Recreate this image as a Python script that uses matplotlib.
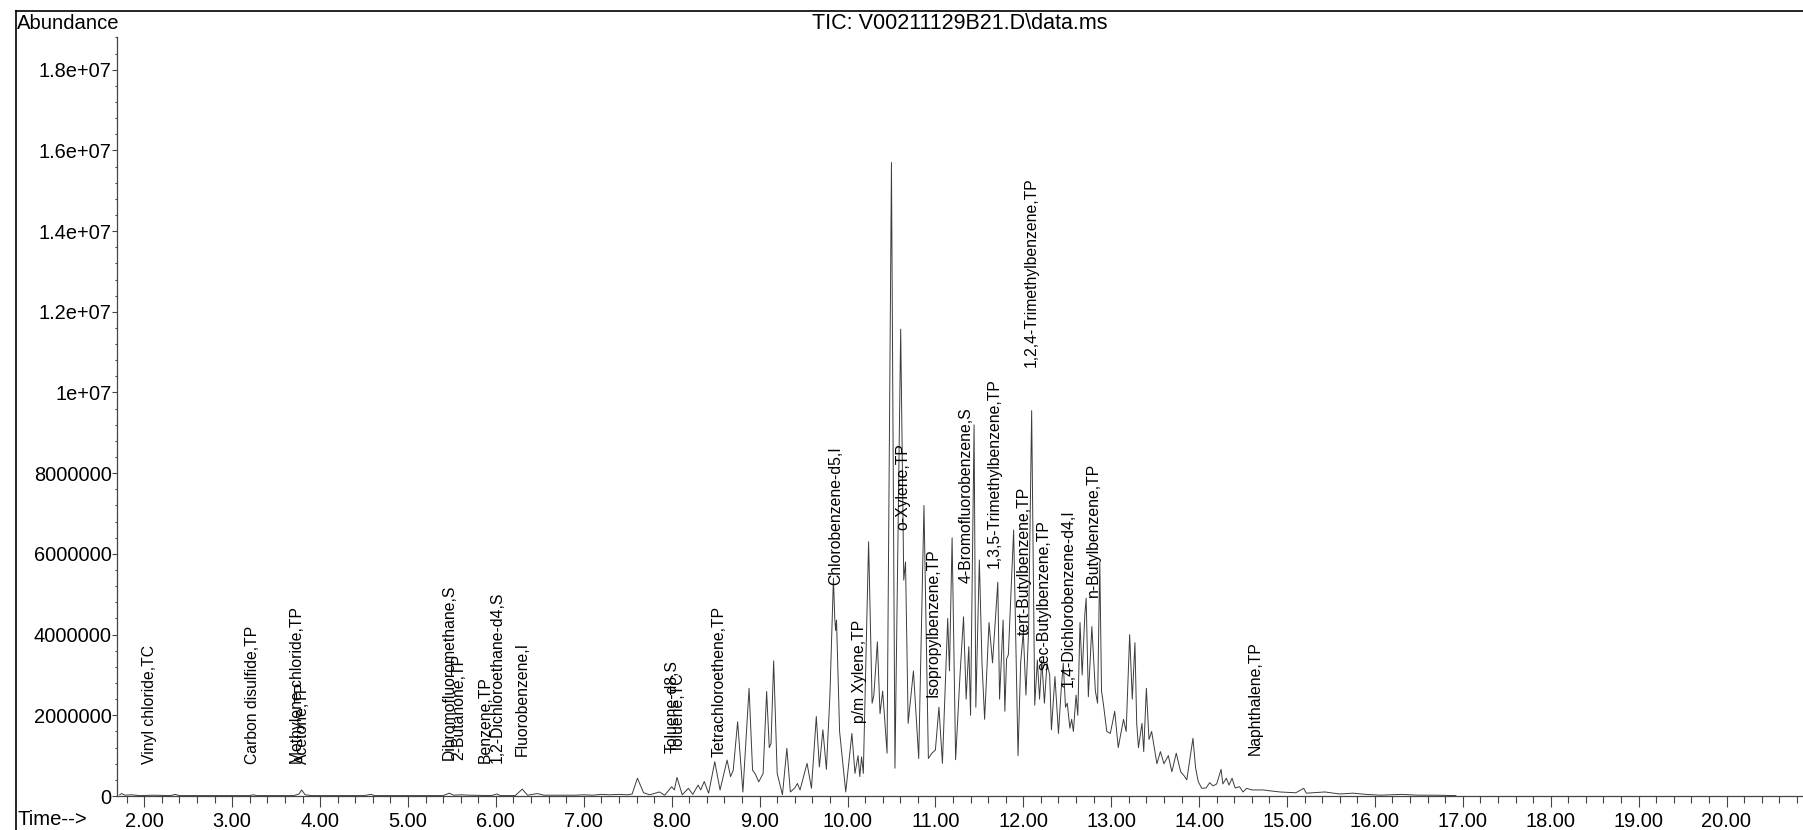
import numpy as np
import matplotlib
matplotlib.use("Agg")
import matplotlib.pyplot as plt
from matplotlib.lines import Line2D
from matplotlib.ticker import MultipleLocator, FuncFormatter

plt.rcParams['font.family'] = ['Liberation Sans', 'DejaVu Sans']

# TIC trace: retention time (min), abundance (millions)
rt_min = [1.72, 1.74, 1.78, 1.85, 1.95, 2.10, 2.30, 2.35, 2.40, 2.70, 3.20, 3.24, 3.28,
          3.70, 3.76, 3.79, 3.83, 3.90, 4.50, 4.58, 4.62, 5.40, 5.47, 5.52, 5.60, 5.70,
          5.95, 6.01, 6.05, 6.22, 6.30, 6.36, 6.47, 6.55, 6.90, 7.00, 7.10, 7.20, 7.30,
          7.40, 7.50, 7.55, 7.61, 7.68, 7.75, 7.86, 7.92, 7.97, 8.00, 8.03, 8.06, 8.12,
          8.19, 8.24, 8.30, 8.33, 8.37, 8.42, 8.49, 8.55, 8.63, 8.67, 8.70, 8.75, 8.81,
          8.88, 8.92, 8.95, 8.99, 9.04, 9.08, 9.11, 9.13, 9.16, 9.20, 9.26, 9.31, 9.35,
          9.40, 9.43, 9.46, 9.54, 9.59, 9.645, 9.68, 9.72, 9.76, 9.80, 9.84, 9.855, 9.865,
          9.875, 9.91, 9.98, 10.05, 10.085, 10.12, 10.14, 10.16, 10.18, 10.24, 10.28, 10.30,
          10.34, 10.37, 10.40, 10.42, 10.45, 10.50, 10.54, 10.605, 10.64, 10.66, 10.69,
          10.75, 10.81, 10.87, 10.92, 10.96, 11.00, 11.04, 11.08, 11.14, 11.16, 11.19,
          11.23, 11.28, 11.32, 11.35, 11.38, 11.40, 11.44, 11.46, 11.50, 11.53, 11.56,
          11.61, 11.65, 11.71, 11.73, 11.77, 11.79, 11.81, 11.83, 11.89, 11.94, 11.97,
          12.00, 12.03, 12.06, 12.095, 12.13, 12.16, 12.185, 12.21, 12.24, 12.27, 12.30,
          12.32, 12.36, 12.40, 12.43, 12.455, 12.48, 12.50, 12.53, 12.55, 12.57, 12.60,
          12.62, 12.645, 12.67, 12.70, 12.715, 12.74, 12.78, 12.82, 12.845, 12.87, 12.89,
          12.91, 12.95, 12.99, 13.04, 13.08, 13.14, 13.17, 13.21, 13.24, 13.27, 13.29,
          13.31, 13.35, 13.37, 13.40, 13.43, 13.46, 13.52, 13.56, 13.60, 13.65, 13.69,
          13.74, 13.79, 13.83, 13.86, 13.93, 13.96, 13.99, 14.03, 14.08, 14.12, 14.16,
          14.20, 14.25, 14.27, 14.31, 14.34, 14.375, 14.41, 14.46, 14.50, 14.54, 14.60,
          14.73, 14.80, 14.92, 15.10, 15.19, 15.22, 15.43, 15.60, 15.75, 15.90, 16.06,
          16.30, 16.50, 16.70, 16.92]
abund_m = [0.03, 0.06, 0.02, 0.03, 0.01, 0.02, 0.01, 0.04, 0.01, 0.01, 0.01, 0.03, 0.01,
           0.01, 0.05, 0.15, 0.03, 0.01, 0.01, 0.04, 0.01, 0.01, 0.07, 0.02, 0.03, 0.02,
           0.01, 0.05, 0.01, 0.01, 0.17, 0.02, 0.06, 0.02, 0.02, 0.03, 0.02, 0.04, 0.03,
           0.04, 0.03, 0.05, 0.44, 0.08, 0.03, 0.10, 0.02, 0.15, 0.23, 0.15, 0.46, 0.03,
           0.19, 0.04, 0.27, 0.15, 0.36, 0.07, 0.85, 0.15, 0.89, 0.48, 0.64, 1.84, 0.10,
           2.67, 0.64, 0.55, 0.35, 0.56, 2.59, 1.20, 1.30, 3.35, 0.56, 0.03, 1.18, 0.10,
           0.20, 0.31, 0.15, 0.81, 0.19, 1.97, 0.72, 1.64, 0.66, 2.50, 5.40, 4.40, 4.10,
           4.36, 1.60, 0.10, 1.55, 0.56, 1.00, 0.48, 0.97, 0.56, 6.30, 2.30, 2.50,
           3.82, 2.04, 2.60, 2.00, 1.06, 15.70, 0.69, 11.57, 5.35, 5.80, 1.80,
           3.10, 0.93, 7.20, 0.93, 1.06, 1.14, 2.20, 0.81, 4.40, 3.10, 6.40,
           0.90, 3.00, 4.44, 2.40, 3.70, 2.00, 9.20, 2.20, 5.85, 3.30, 1.90,
           4.30, 3.30, 5.30, 2.40, 4.36, 2.10, 3.40, 3.50, 6.59, 1.00, 3.30,
           4.07, 2.50, 4.10, 9.55, 2.25, 3.37, 2.40, 3.37, 2.30, 3.29, 3.00,
           1.64, 2.96, 1.55, 2.60, 3.29, 2.20, 2.30, 1.68, 1.90, 1.60, 2.50,
           2.00, 4.30, 3.00, 4.50, 4.90, 2.46, 4.20, 2.60, 2.30, 5.80, 2.60,
           2.30, 1.60, 1.55, 2.10, 1.20, 1.90, 1.60, 4.00, 2.40, 3.80, 1.80,
           1.20, 1.80, 1.10, 2.67, 1.40, 1.60, 0.80, 1.10, 0.80, 1.00, 0.60,
           1.06, 0.60, 0.50, 0.40, 1.43, 0.70, 0.36, 0.19, 0.20, 0.33, 0.25,
           0.30, 0.66, 0.30, 0.44, 0.27, 0.44, 0.20, 0.23, 0.10, 0.19, 0.15,
           0.15, 0.13, 0.10, 0.08, 0.19, 0.07, 0.10, 0.05, 0.07, 0.04, 0.02,
           0.04, 0.02, 0.02, 0.01]

# compound labels: name, label position (min), label base (millions)
peak_names = ["Vinyl chloride,TC", "Carbon disulfide,TP", "Methylene chloride,TP", "Acetone,TP",
              "Dibromofluoromethane,S", "2-Butanone,TP", "Benzene,TP", "1,2-Dichloroethane-d4,S",
              "Fluorobenzene,I", "Toluene-d8,S", "Toluene,TC", "Tetrachloroethene,TP",
              "Chlorobenzene-d5,I", "p/m Xylene,TP", "o-Xylene,TP", "Isopropylbenzene,TP",
              "4-Bromofluorobenzene,S", "1,3,5-Trimethylbenzene,TP", "tert-Butylbenzene,TP",
              "1,2,4-Trimethylbenzene,TP", "sec-Butylbenzene,TP", "1,4-Dichlorobenzene-d4,I",
              "n-Butylbenzene,TP", "Naphthalene,TP"]
peak_rt = [2.055, 3.23, 3.74, 3.80, 5.47, 5.58, 5.88, 6.01, 6.30, 8.00, 8.07, 8.54,
           9.87, 10.14, 10.63, 10.97, 11.35, 11.67, 12.01, 12.09, 12.24, 12.51, 12.80, 14.64]
label_base_m = [0.79, 0.79, 0.79, 0.79, 0.89, 0.89, 0.82, 0.82, 0.99, 1.07, 1.07, 0.97,
                5.23, 1.81, 6.59, 2.45, 5.28, 5.65, 3.99, 10.63, 3.12, 2.70, 4.93, 1.02]

rt = np.array(rt_min)
abund = np.array(abund_m) * 1e6

W, H = 1803, 830
fig = plt.figure(figsize=(W / 100, H / 100), dpi=100)
ax = fig.add_axes([117 / W, 1 - 796 / H, 1 - 117 / W, (796 - 37) / H])

ax.plot(rt, abund, color='#3c3c3c', lw=0.7)

for name, x, b in zip(peak_names, peak_rt, label_base_m):
    ax.text(x, b * 1e6, name, rotation=90, ha='center', va='bottom',
            fontsize=11.3, color='black')

ax.set_xlim(2 - 27.3 / 87.9, 2 + (W - 144.3) / 87.9)
ax.set_ylim(0, (796 - 37) * 24783)

ax.xaxis.set_major_locator(MultipleLocator(1))
ax.xaxis.set_minor_locator(MultipleLocator(0.2))
ax.xaxis.set_major_formatter(FuncFormatter(lambda v, p: '%.2f' % v))
ax.yaxis.set_major_locator(MultipleLocator(2e6))
ax.yaxis.set_minor_locator(MultipleLocator(4e5))
ax.yaxis.set_major_formatter(FuncFormatter(
    lambda v, p: str(int(round(v))) if v < 1e7 else '%g' % v))

ax.tick_params(axis='x', which='major', length=7.9, width=0.8, pad=3.5,
               labelsize=14.4, colors='#444444', labelcolor='black')
ax.tick_params(axis='x', which='minor', length=5, width=0.8, colors='#444444')
ax.tick_params(axis='y', which='major', length=3.3, width=0.8, pad=0.5,
               labelsize=14.4, colors='#444444', labelcolor='black')
ax.tick_params(axis='y', which='minor', length=1.6, width=0.8, colors='#444444')

for s in ['top', 'right']:
    ax.spines[s].set_visible(False)
for s in ['left', 'bottom']:
    ax.spines[s].set_color('#444444')
    ax.spines[s].set_linewidth(0.9)

# outer frame (top and left)
fig.add_artist(Line2D([16 / W, 1], [1 - 11 / H, 1 - 11 / H], color='black', lw=1.2))
fig.add_artist(Line2D([16 / W, 16 / W], [0, 1 - 11 / H], color='black', lw=1.2))

fig.text(16.5 / W, 1 - 29 / H, "Abundance", fontsize=14.6, ha='left', va='baseline')
fig.text(960 / W, 1 - 29 / H, "TIC: V00211129B21.D\\data.ms", fontsize=15.5, ha='center', va='baseline')
fig.text(17 / W, 1 - 825 / H, "Time-->", fontsize=14.6, ha='left', va='baseline')

fig.savefig("out.png", dpi=100)
